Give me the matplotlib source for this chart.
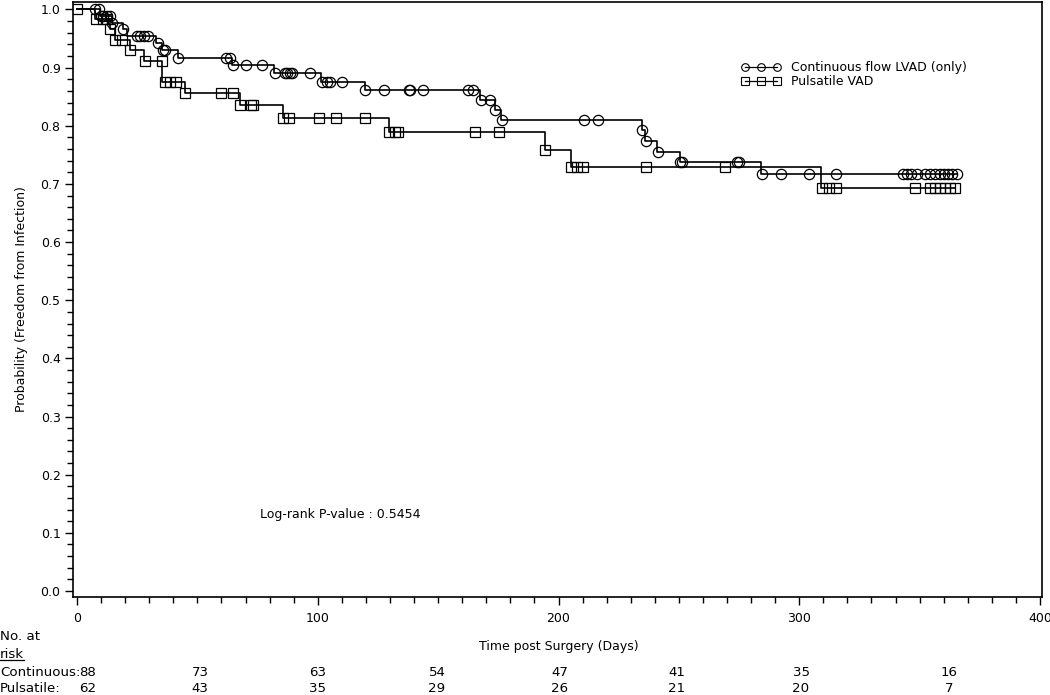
import numpy as np
import matplotlib
matplotlib.use("Agg")
import matplotlib.pyplot as plt
from matplotlib.lines import Line2D
from matplotlib.ticker import MultipleLocator, FormatStrFormatter

# ---------------- data ----------------
cont_label = "Continuous flow LVAD (only)"
puls_label = "Pulsatile VAD"

cont_step_days = [9.5, 14.5, 19.0, 20.8, 33.0, 35.5, 41.8, 64.5, 82.0, 101.5, 119.5,
                  167.5, 173.5, 176.3, 234.5, 236.0, 241.0, 250.3, 284.3]
cont_step_surv = [0.989, 0.977, 0.966, 0.955, 0.942, 0.930, 0.916, 0.904, 0.890, 0.875, 0.861,
                  0.844, 0.827, 0.810, 0.792, 0.774, 0.755, 0.737, 0.717]
cont_censor_days = [7.5, 9.0, 10.0, 11.0, 12.5, 13.5, 14.5, 19.2, 25.0, 26.0, 28.0, 29.5,
                    33.6, 35.7, 36.5, 42.0, 62.0, 63.5, 65.0, 70.0, 77.0, 82.2, 86.4, 87.2,
                    88.5, 89.3, 96.8, 101.8, 103.8, 105.0, 110.0, 119.6, 127.5, 137.9, 138.3,
                    143.7, 162.4, 164.5, 167.8, 171.5, 173.6, 176.5, 210.6, 216.4, 234.7,
                    236.3, 241.3, 250.5, 251.3, 274.1, 275.0, 284.5, 292.4, 304.0, 315.3,
                    343.0, 344.8, 346.4, 349.0, 352.2, 354.3, 356.4, 358.5, 360.1, 361.8,
                    363.4, 365.5]

puls_step_days = [7.5, 13.5, 15.7, 22.0, 28.0, 35.5, 44.7, 67.5, 85.5, 129.5, 194.3, 205.0, 309.0]
puls_step_surv = [0.984, 0.966, 0.948, 0.931, 0.912, 0.875, 0.856, 0.835, 0.813, 0.789,
                  0.758, 0.729, 0.693]
puls_censor_days = [0.0, 7.9, 10.8, 12.5, 13.7, 15.8, 18.7, 22.0, 28.2, 35.3, 36.6, 38.6,
                    41.1, 44.9, 59.8, 64.8, 67.7, 72.3, 73.1, 85.6, 88.1, 100.5, 107.6, 119.6,
                    129.6, 132.1, 133.3, 165.3, 175.3, 194.4, 205.2, 207.7, 210.2, 236.3,
                    269.2, 309.4, 312.4, 315.3, 348.1, 354.3, 356.4, 358.5, 360.5, 362.6,
                    364.7]

risk_cont = ["88", "73", "63", "54", "47", "41", "35", "16"]
risk_puls = ["62", "43", "35", "29", "26", "21", "20", "7"]
risk_rows = ["Continuous:", "Pulsatile:"]

x_ticks = [0, 100, 200, 300, 400]
y_ticks = [0.0, 0.1, 0.2, 0.3, 0.4, 0.5, 0.6, 0.7, 0.8, 0.9, 1.0]
pvalue_text = "Log-rank P-value : 0.5454"

# ---------------- helpers ----------------
def step_curve(step_days, step_surv, end_day):
    t = np.concatenate([[0.0], step_days, [end_day]])
    s = np.concatenate([[1.0], step_surv, [step_surv[-1]]])
    return t, s

def surv_at(days, step_days, step_surv):
    levels = np.concatenate([[1.0], step_surv])
    idx = np.searchsorted(step_days, days, side="right")
    return levels[idx]

# ---------------- figure ----------------
plt.rcParams["font.family"] = ["DejaVu Sans"]
fig = plt.figure(figsize=(10.5, 6.95), dpi=100)
ax = fig.add_axes([73 / 1050, 1 - 597 / 695, (1042 - 73) / 1050, (597 - 1.5) / 695])

lw = 1.2
ms_c = 7.4
ms_s = 7.0

ct, cs = step_curve(cont_step_days, cont_step_surv, max(cont_censor_days))
pt, ps = step_curve(puls_step_days, puls_step_surv, max(puls_censor_days))
ax.step(ct, cs, where="post", color="black", lw=lw)
ax.step(pt, ps, where="post", color="black", lw=lw)

cc = np.array(cont_censor_days)
pc = np.array(puls_censor_days)
ax.plot(cc, surv_at(cc, cont_step_days, cont_step_surv), ls="none", marker="o",
        ms=ms_c, mfc="none", mec="black", mew=0.9)
ax.plot(pc, surv_at(pc, puls_step_days, puls_step_surv), ls="none", marker="s",
        ms=ms_s, mfc="none", mec="black", mew=0.9)

ax.set_xlim(-4 / 2.4075, (1042 - 77) / 2.4075)
ax.set_ylim(-6 / 582, 1 + 8 / 582)

ax.set_xticks(x_ticks)
ax.xaxis.set_minor_locator(MultipleLocator(10))
ax.set_yticks(y_ticks)
ax.yaxis.set_minor_locator(MultipleLocator(0.02))
ax.yaxis.set_major_formatter(FormatStrFormatter("%.1f"))
ax.tick_params(which="major", length=6, width=1, labelsize=9, pad=3)
ax.tick_params(which="minor", length=4, width=1)
ax.tick_params(axis="x", pad=5)
for sp in ax.spines.values():
    sp.set_linewidth(1.2)

ax.set_ylabel("Probability (Freedom from Infection)", fontsize=9, labelpad=9)

# legend
handles = [Line2D([], [], color="black", lw=0.9, marker="o", ms=5.5, mfc="none", mew=0.8),
           Line2D([], [], color="black", lw=0.9, marker="s", ms=5.2, mfc="none", mew=0.8)]
ax.legend(handles, [cont_label, puls_label], numpoints=3, handlelength=3.2,
          frameon=False, fontsize=9, loc="upper left",
          bbox_to_anchor=((741 - 73) / 969, (597 - 61) / 596),
          labelspacing=0.05, handletextpad=0.8, borderpad=0, borderaxespad=0)

ax.text(76, 0.132, pvalue_text, fontsize=9, ha="left", va="center")

# x label and risk table
xt = ax.get_xaxis_transform()
ax.text(200, (597 - 647) / 596, "Time post Surgery (Days)", transform=xt,
        fontsize=9, ha="center", va="center", clip_on=False)

risk_x_px = [87, 200, 318, 437, 560, 677, 801, 949]
row_y_px = [673, 689]
fs_tab = 9.6
fig.text(0.0, 1 - 637 / 695, "No. at", fontsize=fs_tab, ha="left", va="center")
rtxt = fig.text(0.0, 1 - 654 / 695, "risk", fontsize=fs_tab, ha="left", va="center")
for row_label, vals, ypx in zip(risk_rows, [risk_cont, risk_puls], row_y_px):
    fig.text(0.0, 1 - ypx / 695, row_label, fontsize=fs_tab, ha="left", va="center")
    for i, (v, xpx) in enumerate(zip(vals, risk_x_px)):
        if i == 0:
            fig.text(79 / 1050, 1 - ypx / 695, v, fontsize=fs_tab, ha="left", va="center")
        else:
            fig.text(xpx / 1050, 1 - ypx / 695, v, fontsize=fs_tab, ha="center", va="center")

fig.canvas.draw()
bb = rtxt.get_window_extent().transformed(fig.transFigure.inverted())
fig.add_artist(Line2D([bb.x0, bb.x1], [bb.y0 + 0.001, bb.y0 + 0.001], color="black",
                      lw=0.9, transform=fig.transFigure))

fig.savefig("out.png", dpi=100)
